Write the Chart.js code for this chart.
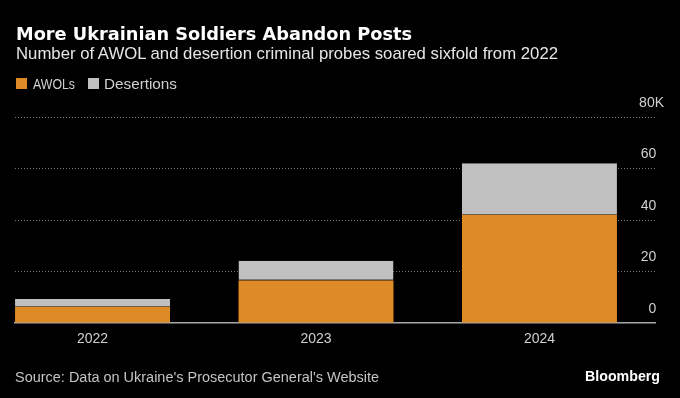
<!DOCTYPE html>
<html>
<head>
<meta charset="utf-8">
<script src="https://cdn.jsdelivr.net/npm/chart.js@4"></script>
<style>
  html, body { margin: 0; padding: 0; background: #000; }
  #wrap { position: relative; width: 680px; height: 398px; overflow: hidden; background: #000; }
  #chart { position: absolute; left: 0; top: 0; }
  .t { position: absolute; white-space: nowrap; line-height: 1; transform-origin: 0 0; }
  #title { left: 16px; top: 23px; font: bold 18px "DejaVu Sans", sans-serif; color: #fff; }
  #sub { left: 16px; top: 44px; font: 17px "Liberation Sans", sans-serif; color: #e6e6e6; }
  .leg { top: 75px; font: 15px "Liberation Sans", sans-serif; color: #d0d0d0; }
  .sw { position: absolute; top: 78px; width: 11px; height: 11px; }
  #src { left: 15px; top: 369px; font: 14px "Liberation Sans Narrow", "Liberation Sans", sans-serif; color: #c4c4c4; }
  #logo { left: 585px; top: 367px; font: bold 15px "Liberation Sans", sans-serif; color: #fff; }
</style>
</head>
<body>
<div id="wrap">
  <canvas id="chart" width="680" height="398"></canvas>
  <div class="t" id="title" data-w="396">More Ukrainian Soldiers Abandon Posts</div>
  <div class="t" id="sub" data-w="542">Number of AWOL and desertion criminal probes soared sixfold from 2022</div>
  <div class="sw" style="left:16px;background:#dd8a27"></div>
  <div class="t leg" style="left:33px" data-w="42">AWOLs</div>
  <div class="sw" style="left:88px;background:#c0c0c0"></div>
  <div class="t leg" style="left:104px" data-w="73">Desertions</div>
  <div class="t" id="src" data-w="364">Source: Data on Ukraine's Prosecutor General's Website</div>
  <div class="t" id="logo" data-w="75">Bloomberg</div>
</div>
<script>
// values in thousands
const years = [2022, 2023, 2024];
const awols = [6.2, 16.5, 41.9];
const desertions = [3.1, 7.7, 20.1];
const yTicks = [0, 20, 40, 60, 80];

const tickFont = { family: '"Liberation Sans", sans-serif', size: 14 };

new Chart(document.getElementById('chart'), {
  type: 'bar',
  data: {
    labels: years,
    datasets: [
      {
        label: 'AWOLs',
        data: awols,
        backgroundColor: '#dd8a27',
        borderWidth: 0
      },
      {
        label: 'Desertions',
        data: desertions,
        backgroundColor: '#c0c0c0',
        borderColor: '#6f5d48',
        borderWidth: { top: 0, left: 0, right: 0, bottom: 1 },
        borderSkipped: false
      }
    ]
  },
  options: {
    responsive: false,
    animation: false,
    layout: { padding: { left: 15, right: 0, top: 117, bottom: 0 } },
    plugins: { legend: { display: false }, tooltip: { enabled: false } },
    datasets: { bar: { barPercentage: 0.6935, categoryPercentage: 1 } },
    scales: {
      x: {
        type: 'linear',
        stacked: true,
        offset: false,
        min: 2021.653,
        max: 2024.517,
        afterBuildTicks: s => { s.ticks = years.map(v => ({ value: v })); },
        afterFit: s => { s.height = 75; },
        grid: { display: false, drawTicks: false },
        border: { display: true, color: '#a8a8a8', width: 1.5 },
        ticks: {
          color: '#d0d0d0',
          font: tickFont,
          padding: 8,
          autoSkip: false,
          maxRotation: 0,
          callback: v => String(v)
        }
      },
      y: {
        position: 'right',
        stacked: true,
        min: 0,
        max: 80,
        afterBuildTicks: s => { s.ticks = yTicks.map(v => ({ value: v })); },
        afterFit: s => { s.width = 25; },
        grid: {
          color: c => (c.tick && c.tick.value === 0) ? 'rgba(0,0,0,0)' : '#747474',
          lineWidth: 1,
          drawTicks: false
        },
        border: { display: false, dash: [1, 2] },
        ticks: {
          color: '#d0d0d0',
          font: tickFont,
          mirror: true,
          padding: 9,
          labelOffset: -14,
          callback: v => v === 80 ? '80K' : String(v) + '\u2007'
        }
      }
    }
  }
});

// squeeze the text blocks to the widths seen in the picture
document.querySelectorAll('.t[data-w]').forEach(el => {
  const w = el.getBoundingClientRect().width;
  const target = +el.dataset.w;
  if (w > 0) el.style.transform = 'scaleX(' + (target / w) + ')';
});
</script>
</body>
</html>
